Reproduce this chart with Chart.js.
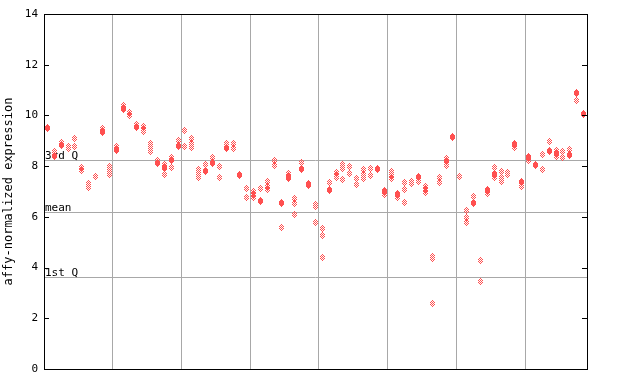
<!DOCTYPE html>
<html><head><meta charset="utf-8">
<script src="https://cdn.jsdelivr.net/npm/chart.js@4/dist/chart.umd.min.js"></script>
<style>html,body{margin:0;padding:0;background:#fff}#wrap{width:640px;height:384px}</style>
</head><body><div id="wrap"><canvas id="c" width="640" height="384"></canvas></div>
<script>
// expression values per sample (replicates), in groups of ten samples
const groupA = [[9.54,9.50],[8.56,8.42,8.38],[8.93,8.87,8.83],[8.78,8.68],[9.10,8.77],[7.93,7.82],[7.32,7.15],[7.59],[9.50,9.37,9.33],[8.00,7.84,7.68]];
const groupB = [[8.76,8.64,8.60],[10.38,10.29,10.25],[10.10,9.98],[9.66,9.58,9.54],[9.56,9.45,9.38],[8.90,8.73,8.57],[8.22,8.14,8.10],[8.07,7.96,7.92,7.68],[8.36,8.27,8.23,7.94],[9.02,8.82,8.78]];
const groupC = [[9.40,8.77],[9.08,8.91,8.73],[7.86,7.71,7.55],[8.07,7.83,7.79],[8.34,8.15,8.11],[8.00,7.55],[8.91,8.74,8.70],[8.91,8.69],[7.69,7.65],[7.12,6.76]];
const groupD = [[7.00,6.89,6.78],[7.12,6.65,6.61],[7.39,7.18,7.09],[8.22,8.01],[6.57,6.53,5.58],[7.70,7.61,7.57,7.50],[6.72,6.53,6.09],[8.14,7.90,7.86],[7.33,7.27,7.23],[6.50,6.42,5.76]];
const groupE = [[5.54,5.27,4.40],[7.35,7.08,7.04],[7.76,7.64,7.55],[8.06,7.90,7.49],[7.97,7.71],[7.50,7.27],[7.86,7.67,7.51],[7.92,7.64],[7.90,7.86],[7.03,6.99,6.88]];
const groupF = [[7.77,7.64,7.50],[6.94,6.90,6.76],[7.35,7.08,6.57],[7.38,7.31],[7.59,7.55,7.39],[7.21,7.09,6.98],[4.45,4.37,2.59],[7.55,7.35],[8.30,8.21,8.17,8.03],[9.16,9.12]];
const groupG = [[7.59],[6.26,5.97,5.79],[6.79,6.57,6.53],[4.28,3.45],[7.08,7.04,6.92],[7.94,7.70,7.66,7.55],[7.77,7.57,7.40],[7.73,7.69],[8.91,8.87,8.73],[7.40,7.36,7.18]];
const groupH = [[8.37,8.33,8.23],[8.07,8.03],[8.45,7.86],[8.98,8.61,8.57],[8.60,8.49,8.45,8.39],[8.56,8.34],[8.65,8.45,8.41],[10.90,10.86,10.59],[10.09,10.05]];
const yTickValues = [0,2,4,6,8,10,12,14];
const refValues = [8.23, 6.21, 3.61];
const refLabels = ['3rd Q', 'mean', '1st Q'];
const yTitle = 'affy-normalized expression';

const groups = [groupA,groupB,groupC,groupD,groupE,groupF,groupG,groupH];
const samples = [].concat(...groups);
const points = [];
samples.forEach((reps, i) => reps.forEach(v => points.push({x: i, y: v})));
const groupBounds = [];
let acc = 0;
groups.slice(0, -1).forEach(g => { acc += g.length; groupBounds.push(acc - 0.5); });

// checkered diamond marker
const RED = 'rgb(255,80,80)';
const marker = document.createElement('canvas');
marker.width = 5; marker.height = 7;
(function(){
  const m = marker.getContext('2d');
  m.fillStyle = RED;
  const widths = [1,3,5,5,5,3,1];
  widths.forEach((w, r) => {
    const s = (5 - w) / 2;
    for (let c = s; c < s + w; c++) if ((r + c) % 2 === 0) m.fillRect(c, r, 1, 1);
  });
})();

const FONT = 'DejaVu Sans Mono';
const overlay = {
  id: 'overlay',
  beforeDatasetsDraw(chart) {
    const {ctx, chartArea: a, scales: {y}} = chart;
    ctx.save();
    ctx.strokeStyle = '#a8a8a8';
    ctx.lineWidth = 1;
    refValues.forEach((v, i) => {
      const py = Math.round(y.getPixelForValue(v)) + 0.5;
      ctx.beginPath(); ctx.moveTo(a.left, py); ctx.lineTo(a.right, py); ctx.stroke();
      ctx.fillStyle = '#000';
      ctx.font = '11px "' + FONT + '"';
      ctx.textBaseline = 'alphabetic';
      ctx.fillText(refLabels[i], a.left + 1, py - 1.5);
    });
    ctx.restore();
    ctx.imageSmoothingEnabled = false;
  },
  afterDatasetsDraw(chart) {
    const {ctx, chartArea: a, scales: {y}} = chart;
    ctx.save();
    ctx.strokeStyle = '#000';
    ctx.lineWidth = 1;
    ctx.strokeRect(Math.round(a.left) + 0.5, Math.round(a.top) + 0.5, Math.round(a.right - a.left), Math.round(a.bottom - a.top));
    yTickValues.forEach(v => {
      const py = Math.round(y.getPixelForValue(v)) + 0.5;
      ctx.beginPath();
      ctx.moveTo(a.left, py); ctx.lineTo(a.left + 5, py);
      ctx.moveTo(a.right - 5, py); ctx.lineTo(a.right, py);
      ctx.stroke();
    });
    ctx.restore();
  }
};

new Chart(document.getElementById('c'), {
  type: 'scatter',
  data: { datasets: [{ data: points, pointStyle: marker, pointRadius: 3, pointHoverRadius: 3, clip: 4 }] },
  options: {
    responsive: false, animation: false, devicePixelRatio: 1,
    layout: { padding: { top: 14, right: 53, left: 0, bottom: 0 } },
    plugins: { legend: { display: false }, tooltip: { enabled: false } },
    scales: {
      x: {
        type: 'linear', min: -0.5, max: samples.length - 0.5,
        afterBuildTicks: s => { s.ticks = groupBounds.map(v => ({ value: v })); },
        ticks: { display: false },
        grid: { color: '#a8a8a8', drawTicks: false, lineWidth: 1 },
        border: { display: false },
        afterFit: s => { s.height = 15; }
      },
      y: {
        min: 0, max: 14,
        afterBuildTicks: s => { s.ticks = yTickValues.map(v => ({ value: v })); },
        ticks: { padding: 6, color: '#000', font: { family: FONT, size: 11 } },
        grid: { display: false, drawTicks: false },
        border: { display: false },
        title: { display: true, text: yTitle, color: '#000', font: { family: FONT, size: 12 }, padding: { top: 2, bottom: 0 } },
        afterFit: s => { s.width = 44; }
      }
    }
  },
  plugins: [overlay]
});
</script>
</body></html>
